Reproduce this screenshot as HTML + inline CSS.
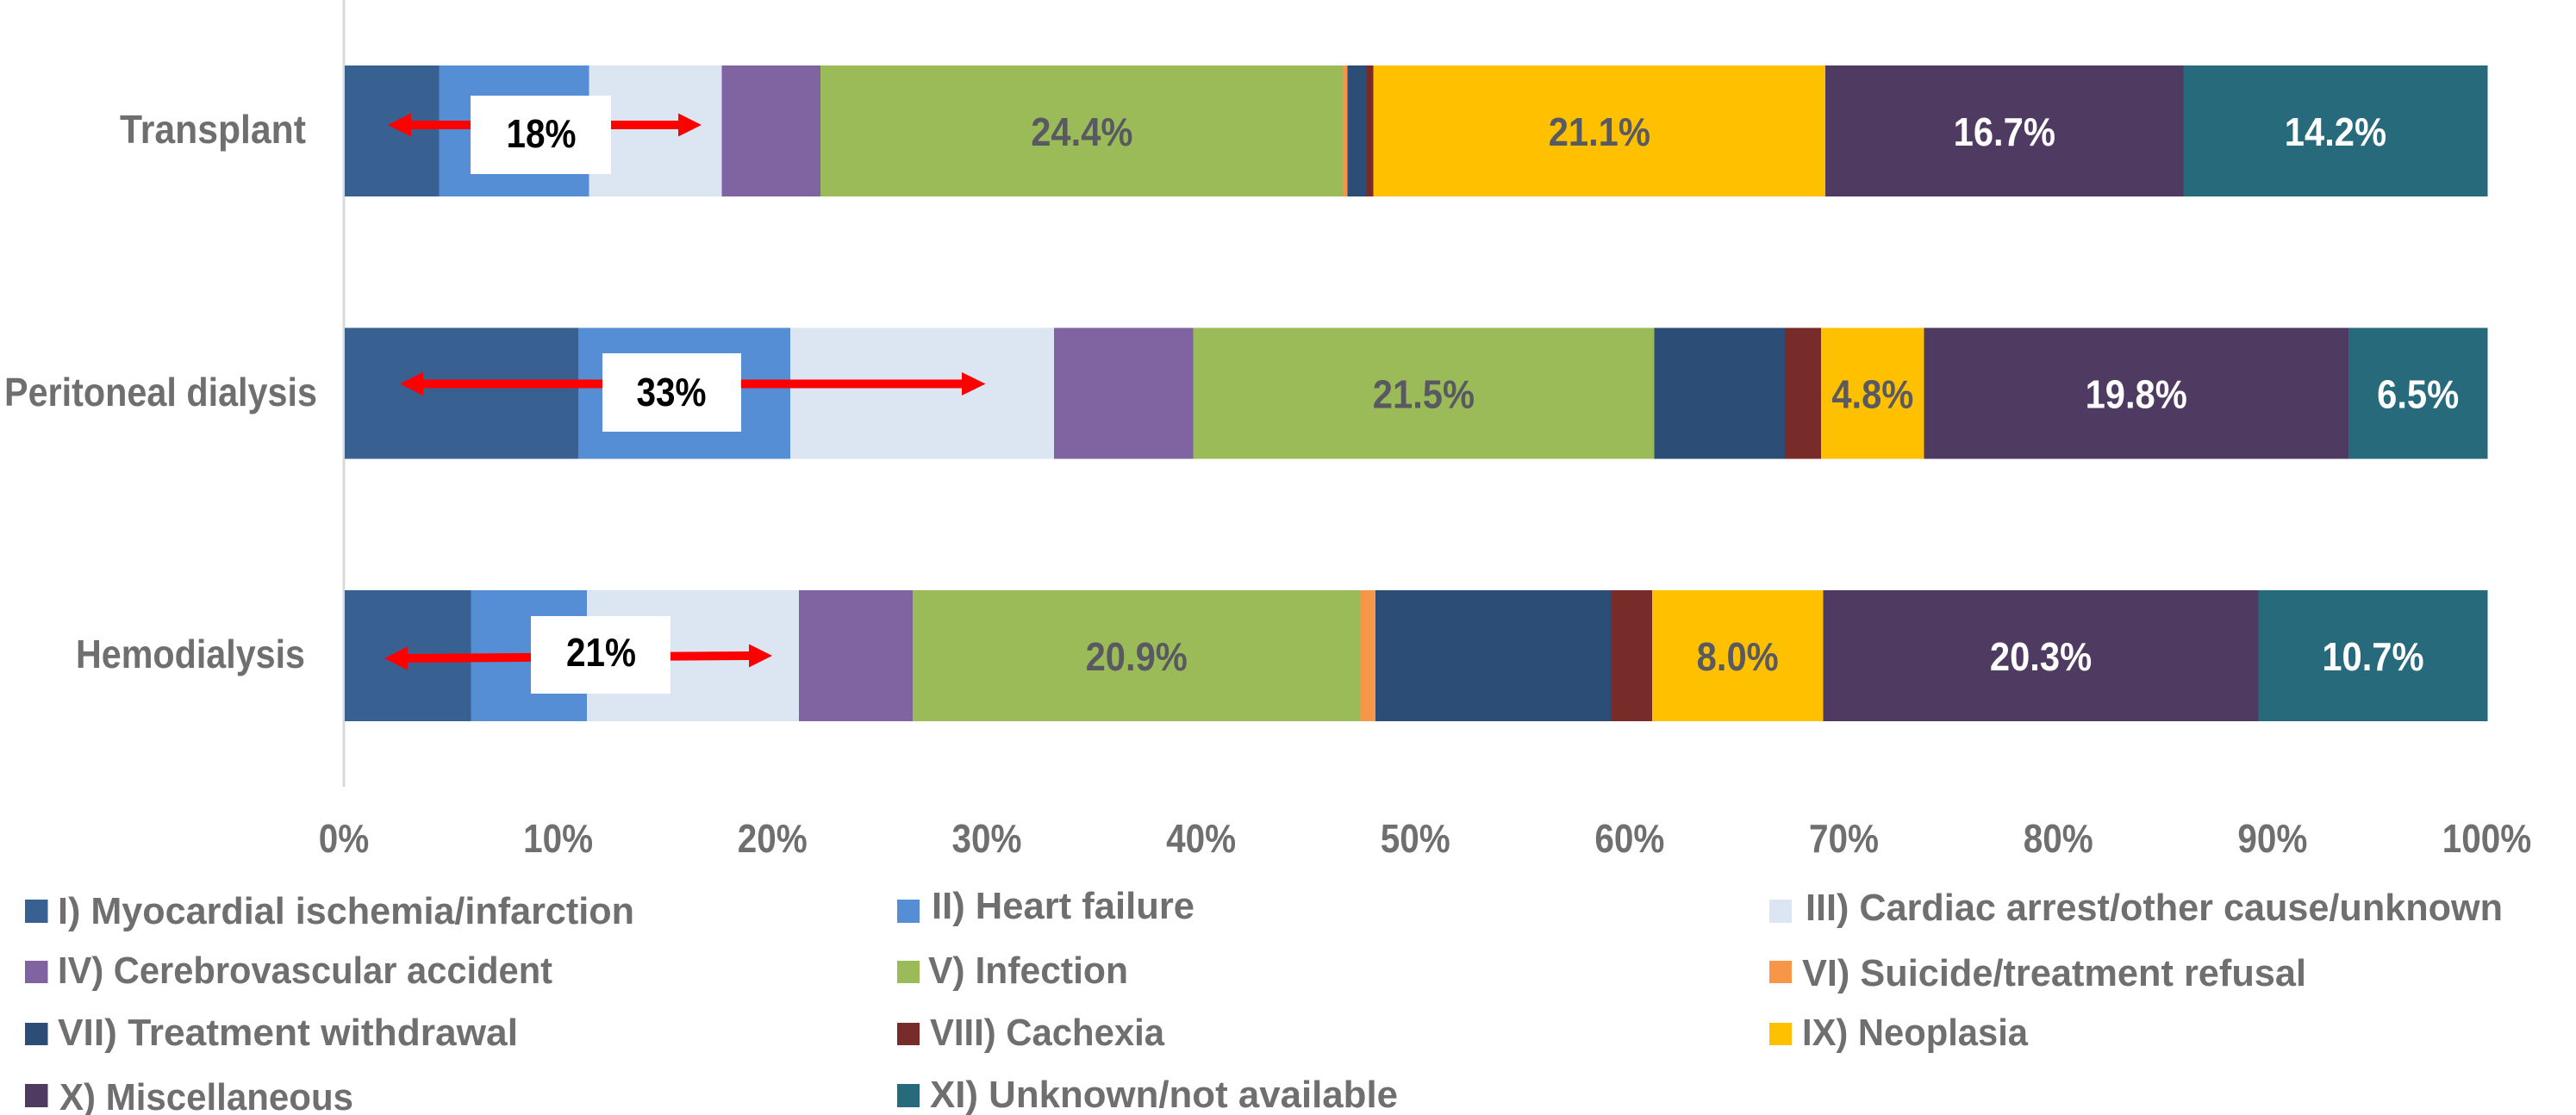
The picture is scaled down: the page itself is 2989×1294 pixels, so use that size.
<!DOCTYPE html>
<html lang="en">
<head>
<meta charset="utf-8">
<title>Causes of death by dialysis modality</title>
<style>
  html, body { margin: 0; padding: 0; background: #fff; }
  svg { display: block; font-family: "Liberation Sans", sans-serif; font-weight: 700; }
  .lg { font-size: 44px; fill: #6f6f6f; }
  .cat { font-size: 46px; fill: #6f6f6f; }
  .call { font-size: 46px; fill: #000; text-anchor: middle; }
</style>
</head>
<body>
<svg id="chart" xmlns="http://www.w3.org/2000/svg" width="2989" height="1294" viewBox="0 0 2989 1294">
  <rect width="2989" height="1294" fill="#fff"/>
  <line x1="399" y1="0" x2="399" y2="913" stroke="#d9d9d9" stroke-width="3"/>
  <g id="bars"></g>
  <g id="ticks"></g>

  <g>
    <text class="cat" x="139" y="166" textLength="216" lengthAdjust="spacingAndGlyphs">Transplant</text>
    <text class="cat" x="5" y="471" textLength="363" lengthAdjust="spacingAndGlyphs">Peritoneal dialysis</text>
    <text class="cat" x="88" y="775" textLength="266" lengthAdjust="spacingAndGlyphs">Hemodialysis</text>
  </g>

  <g>
    <polygon points="450,145 477,131.5 477,140 787,140 787,131.5 814,145 787,158.5 787,150 477,150 477,158.5" fill="#ff0000"/>
    <rect x="546" y="111" width="163" height="91" fill="#fff"/>
    <text class="call" x="628" y="171" textLength="81" lengthAdjust="spacingAndGlyphs">18%</text>
  </g>
  <g>
    <polygon points="464,445.5 491,432 491,440.5 1116,440.5 1116,432 1143.5,445.5 1116,459 1116,450.5 491,450.5 491,459" fill="#ff0000"/>
    <rect x="699" y="410" width="161" height="91" fill="#fff"/>
    <text class="call" x="779" y="471" textLength="81" lengthAdjust="spacingAndGlyphs">33%</text>
  </g>
  <g>
    <polygon points="446,764 473,750.5 473,759 869,756 869,747.5 896,761 869,774.5 869,766 473,769 473,777.5" fill="#ff0000"/>
    <rect x="616" y="715" width="162" height="90" fill="#fff"/>
    <text class="call" x="697.5" y="773" textLength="81" lengthAdjust="spacingAndGlyphs">21%</text>
  </g>

  <g>
    <g>
      <rect x="29" y="1044" width="26.5" height="27" fill="#386192"/>
      <text class="lg" x="67" y="1072" textLength="669" lengthAdjust="spacingAndGlyphs">I) Myocardial ischemia/infarction</text>
    </g>
    <g>
      <rect x="1041" y="1044" width="26" height="27" fill="#558ed5"/>
      <text class="lg" x="1081" y="1066" textLength="305" lengthAdjust="spacingAndGlyphs">II) Heart failure</text>
    </g>
    <g>
      <rect x="2053" y="1044" width="26" height="27" fill="#dce6f2"/>
      <text class="lg" x="2095" y="1068" textLength="809" lengthAdjust="spacingAndGlyphs">III) Cardiac arrest/other cause/unknown</text>
    </g>
    <g>
      <rect x="29" y="1115" width="26.5" height="26" fill="#8064a2"/>
      <text class="lg" x="67" y="1141" textLength="574" lengthAdjust="spacingAndGlyphs">IV) Cerebrovascular accident</text>
    </g>
    <g>
      <rect x="1041" y="1115" width="26" height="26" fill="#9bbb59"/>
      <text class="lg" x="1077" y="1141" textLength="232" lengthAdjust="spacingAndGlyphs">V) Infection</text>
    </g>
    <g>
      <rect x="2053" y="1115" width="26" height="26" fill="#f79646"/>
      <text class="lg" x="2091" y="1144" textLength="585" lengthAdjust="spacingAndGlyphs">VI) Suicide/treatment refusal</text>
    </g>
    <g>
      <rect x="29" y="1187" width="26.5" height="26" fill="#2c4d75"/>
      <text class="lg" x="67" y="1213" textLength="534" lengthAdjust="spacingAndGlyphs">VII) Treatment withdrawal</text>
    </g>
    <g>
      <rect x="1041" y="1187" width="26" height="26" fill="#772c2a"/>
      <text class="lg" x="1079" y="1213" textLength="272" lengthAdjust="spacingAndGlyphs">VIII) Cachexia</text>
    </g>
    <g>
      <rect x="2053" y="1187" width="26" height="26" fill="#ffc000"/>
      <text class="lg" x="2091" y="1213" textLength="262" lengthAdjust="spacingAndGlyphs">IX) Neoplasia</text>
    </g>
    <g>
      <rect x="29" y="1258" width="26.5" height="27" fill="#4f3b62"/>
      <text class="lg" x="69" y="1288" textLength="341" lengthAdjust="spacingAndGlyphs">X) Miscellaneous</text>
    </g>
    <g>
      <rect x="1041" y="1258" width="26" height="27" fill="#276a7c"/>
      <text class="lg" x="1079" y="1285" textLength="543" lengthAdjust="spacingAndGlyphs">XI) Unknown/not available</text>
    </g>
  </g>
</svg>
<script>
// Chart data (percent of deaths per cause, series I to XI)
const categories = ['Transplant', 'Peritoneal dialysis', 'Hemodialysis'];
const seriesNames = ['I', 'II', 'III', 'IV', 'V', 'VI', 'VII', 'VIII', 'IX', 'X', 'XI'];
const transplantValues = [4.4, 7.0, 6.2, 4.6, 24.4, 0.2, 0.9, 0.3, 21.1, 16.7, 14.2];
const peritonealValues = [10.9, 9.9, 12.3, 6.5, 21.5, 0, 6.1, 1.7, 4.8, 19.8, 6.5];
const hemodialysisValues = [5.9, 5.4, 9.9, 5.3, 20.9, 0.7, 11.0, 1.9, 8.0, 20.3, 10.7];
const labeledSeries = ['V', 'IX', 'X', 'XI'];
const tickValues = [0, 10, 20, 30, 40, 50, 60, 70, 80, 90, 100];

const seriesColors = ['#386192', '#558ed5', '#dce6f2', '#8064a2', '#9bbb59', '#f79646', '#2c4d75', '#772c2a', '#ffc000', '#4f3b62', '#276a7c'];
const labelColors = { V: '#595961', IX: '#595961', X: '#ffffff', XI: '#ffffff' };

const NS = 'http://www.w3.org/2000/svg';
const allValues = [transplantValues, peritonealValues, hemodialysisValues];

function xScale(v) {
  return 400 + v * 24.865;
}
function yBandTop(i) {
  return 76 + i * 304.5;
}
const BAND_HEIGHT = 152;

const barsGroup = document.getElementById('bars');
categories.forEach(function (cat, c) {
  let cumulative = 0;
  allValues[c].forEach(function (val, s) {
    const x0 = xScale(cumulative);
    const x1 = xScale(cumulative + val);
    cumulative += val;
    if (val <= 0) return;
    const r = document.createElementNS(NS, 'rect');
    r.setAttribute('x', x0);
    r.setAttribute('y', yBandTop(c));
    r.setAttribute('width', x1 - x0);
    r.setAttribute('height', BAND_HEIGHT);
    r.setAttribute('fill', seriesColors[s]);
    r.setAttribute('shape-rendering', 'crispEdges');
    
    
    barsGroup.appendChild(r);
  });
});

categories.forEach(function (cat, c) {
  let cumulative = 0;
  allValues[c].forEach(function (val, s) {
    const x0 = xScale(cumulative);
    const x1 = xScale(cumulative + val);
    cumulative += val;
    if (labeledSeries.indexOf(seriesNames[s]) < 0) return;
    const t = document.createElementNS(NS, 'text');
    t.textContent = val.toFixed(1) + '%';
    t.setAttribute('x', (x0 + x1) / 2);
    t.setAttribute('y', yBandTop(c) + 93);
    t.setAttribute('text-anchor', 'middle');
    t.setAttribute('font-size', '46');
    t.setAttribute('fill', labelColors[seriesNames[s]]);
    
    
    barsGroup.appendChild(t);
    t.setAttribute('textLength', (t.getComputedTextLength() * 0.907).toFixed(1));
    t.setAttribute('lengthAdjust', 'spacingAndGlyphs');
  });
});

const ticksGroup = document.getElementById('ticks');
tickValues.forEach(function (tick) {
  const t = document.createElementNS(NS, 'text');
  t.textContent = tick + '%';
  t.setAttribute('x', xScale(tick) - 1);
  t.setAttribute('y', 989);
  t.setAttribute('text-anchor', 'middle');
  t.setAttribute('font-size', '46');
  t.setAttribute('fill', '#6f6f6f');
  
  
  ticksGroup.appendChild(t);
  t.setAttribute('textLength', (t.getComputedTextLength() * 0.88).toFixed(1));
  t.setAttribute('lengthAdjust', 'spacingAndGlyphs');
});
</script>
</body>
</html>
